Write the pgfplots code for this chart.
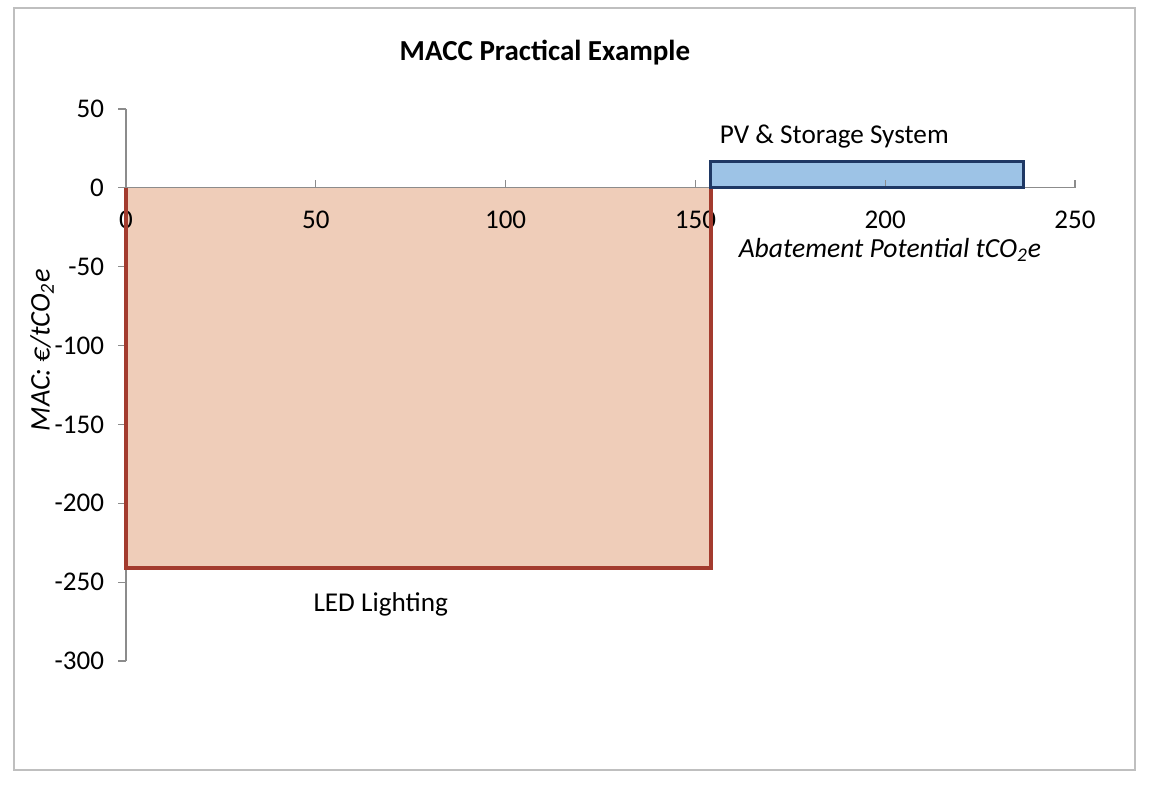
\documentclass[border=0pt]{standalone}
\usepackage{pgfplots}
\pgfplotsset{compat=1.18}
\usepackage{fontspec}
\setmainfont{Carlito}
\definecolor{ledfill}{HTML}{EFCDB9}
\definecolor{ledline}{HTML}{A33B2E}
\definecolor{pvfill}{HTML}{9DC3E6}
\definecolor{pvline}{HTML}{1F3864}
\definecolor{axgray}{HTML}{8C8C8C}
\definecolor{framegray}{HTML}{BFBFBF}
\begin{document}
\begin{tikzpicture}
  % page size: 1150 x 788 px at 0.5pt per px
  \path (0,0) rectangle (575pt,394pt);
  \draw[framegray, line width=0.6pt] (7pt,9pt) rectangle (567.5pt,390pt);
  \begin{axis}[
      set layers,
      at={(63pt,63.5pt)}, anchor=south west,
      scale only axis,
      width=474.5pt, height=276pt,
      xmin=0, xmax=250, ymin=-300, ymax=50,
      axis x line*=middle, axis y line*=left,
      hide obscured x ticks=false,
      axis line style={axgray, line width=0.6pt},
      xtick={0,50,...,250}, ytick={-300,-250,...,50},
      tick style={axgray, line width=0.6pt},
      xtick align=inside, ytick align=outside,
      major tick length=4pt,
      ticklabel style={font=\fontsize{13.5}{15}\selectfont},
      xticklabel style={yshift=-8pt},
      yticklabel style={xshift=-3.5pt},
      /pgf/number format/assume math mode=true,
      title={MACC Practical Example},
      title style={font=\fontsize{14.5}{16}\selectfont\bfseries,
        at={(axis description cs:0.4415,1.0797)}, anchor=center},
      xlabel={\textit{Abatement Potential tCO\textsubscript{2}e}},
      xlabel style={font=\fontsize{13.8}{15}\selectfont,
        at={(axis description cs:0.805,0.745)}, anchor=center},
      ylabel={\textit{MAC: €/tCO\textsubscript{2}e}},
      ylabel style={font=\fontsize{14.2}{16}\selectfont,
        at={(axis description cs:-0.0885,0.563)}, anchor=center},
      clip=false,
    ]
    % fills under the tick labels
    % LED Lighting: width 154 t, MAC -241
    \addplot[on layer=axis background, fill=ledfill, draw=none] coordinates {
      (0,0) (0,-241) (154,-241) (154,0)
    } -- cycle;
    % PV & Storage System: width 82.5 t, MAC 17
    \addplot[on layer=axis background, fill=pvfill, draw=none] coordinates {
      (154,0) (154,17) (236.5,17) (236.5,0)
    } -- cycle;
    % outlines
    \addplot[draw=ledline, line width=2pt] coordinates {
      (0,0) (0,-241) (154,-241) (154,0)
    };
    \addplot[draw=pvline, line width=1.5pt] coordinates {
      (154,0) (154,17) (236.5,17) (236.5,0)
    } -- cycle;
    \node[font=\fontsize{13.6}{15}\selectfont] at (axis cs:186.6,32.4) {PV \& Storage System};
    \node[font=\fontsize{13.6}{15}\selectfont] at (axis cs:67.1,-264) {LED Lighting};
  \end{axis}
\end{tikzpicture}
\end{document}
